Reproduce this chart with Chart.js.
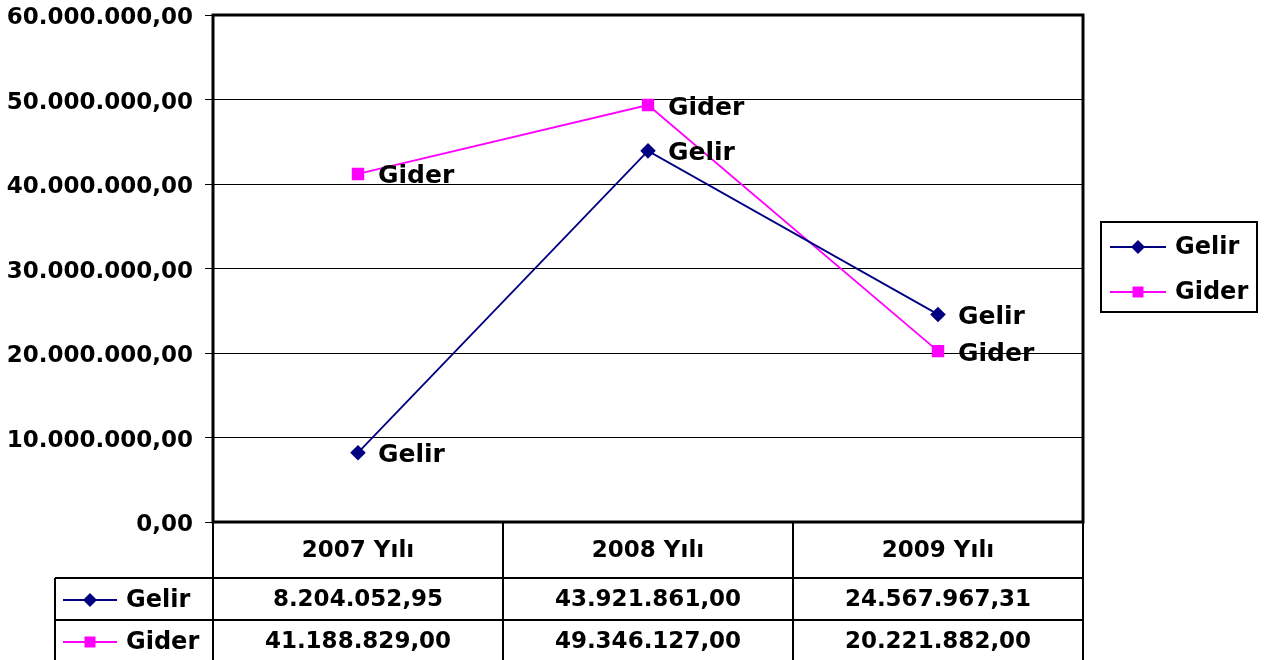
<!DOCTYPE html>
<html lang="tr">
<head>
<meta charset="UTF-8">
<title>Gelir - Gider</title>
<script src="https://cdn.jsdelivr.net/npm/chart.js"></script>
<style>
  body { margin: 0; background: #fff; }
  #wrap { width: 1273px; height: 660px; }
</style>
</head>
<body>
<div id="wrap"><canvas id="grafik" width="1273" height="660"></canvas></div>
<script>
// veriler
const yillar = ['2007 Yılı', '2008 Yılı', '2009 Yılı'];
const gelir = [8204052.95, 43921861.00, 24567967.31];
const gider = [41188829.00, 49346127.00, 20221882.00];
const seriAdlari = ['Gelir', 'Gider'];
const yMax = 60000000;
const yAdim = 10000000;

const FONT = '"DejaVu Sans", "Liberation Sans", Arial, sans-serif';
const LACI = '#000080';
const PEMBE = '#FF00FF';

// Türkçe sayı biçimi: 41.188.829,00
function trSayi(v) {
    const parca = Math.abs(v).toFixed(2).split('.');
    return parca[0].replace(/\B(?=(\d{3})+(?!\d))/g, '.') + ',' + parca[1];
}

function isaret(ctx, tip, x, y, renk) {
    ctx.save();
    ctx.fillStyle = renk;
    ctx.beginPath();
    if (tip === 'kare') {
        ctx.rect(x - 5.5, y - 5.5, 11, 11);
    } else {
        ctx.moveTo(x - 7, y);
        ctx.lineTo(x, y - 7);
        ctx.lineTo(x + 7, y);
        ctx.lineTo(x, y + 7);
        ctx.closePath();
    }
    ctx.fill();
    ctx.restore();
}

function anahtar(ctx, x1, x2, y, renk, tip) {
    ctx.save();
    ctx.strokeStyle = renk;
    ctx.lineWidth = 2;
    ctx.beginPath();
    ctx.moveTo(x1, y);
    ctx.lineTo(x2, y);
    ctx.stroke();
    ctx.restore();
    isaret(ctx, tip, (x1 + x2) / 2, y, renk);
}

// veri etiketleri, çerçeve, veri tablosu ve gösterge
const ekler = {
    id: 'ekler',
    afterDatasetsDraw(chart) {
        const ctx = chart.ctx;
        const a = chart.chartArea;
        const xs = chart.scales.x;

        // nokta etiketleri
        ctx.save();
        ctx.font = 'bold 25px ' + FONT;
        ctx.fillStyle = '#000';
        ctx.textAlign = 'left';
        ctx.textBaseline = 'middle';
        chart.data.datasets.forEach((ds, i) => {
            chart.getDatasetMeta(i).data.forEach(p => {
                ctx.fillText(ds.label, p.x + 20, p.y + 3);
            });
        });
        ctx.restore();

        // çizim alanı çerçevesi
        ctx.save();
        ctx.strokeStyle = '#000';
        ctx.lineWidth = 3;
        ctx.strokeRect(a.left, a.top, a.right - a.left, a.bottom - a.top);
        ctx.restore();

        // veri tablosu
        const ust = a.bottom, s1 = 578, s2 = 620, alt = 662;
        const solKenar = 55;
        const adim = xs.getPixelForValue(1) - xs.getPixelForValue(0);
        ctx.save();
        ctx.strokeStyle = '#000';
        ctx.lineWidth = 2;
        ctx.beginPath();
        for (let i = 0; i <= yillar.length; i++) {
            const x = a.left + i * adim;
            ctx.moveTo(x, ust);
            ctx.lineTo(x, alt);
        }
        ctx.moveTo(solKenar, s1); ctx.lineTo(a.right, s1);
        ctx.moveTo(solKenar, s2); ctx.lineTo(a.right, s2);
        ctx.moveTo(solKenar, s1); ctx.lineTo(solKenar, alt);
        ctx.stroke();

        ctx.fillStyle = '#000';
        ctx.textAlign = 'center';
        ctx.textBaseline = 'middle';
        ctx.font = 'bold 23px ' + FONT;
        const seriler = [gelir, gider];
        const satirY = [(s1 + s2) / 2 + 1, (s2 + alt) / 2 + 1];
        yillar.forEach((y, i) => {
            const cx = xs.getPixelForValue(i);
            ctx.fillText(y, cx, (ust + s1) / 2 + 1);
            seriler.forEach((sr, j) => {
                ctx.fillText(trSayi(sr[i]), cx, satirY[j]);
            });
        });

        // tablo içi anahtarlar
        ctx.font = 'bold 24px ' + FONT;
        ctx.textAlign = 'left';
        anahtar(ctx, 63, 117, satirY[0], LACI, 'elmas');
        ctx.fillText(seriAdlari[0], 126, satirY[0] + 1);
        anahtar(ctx, 63, 117, satirY[1], PEMBE, 'kare');
        ctx.fillText(seriAdlari[1], 126, satirY[1] + 1);

        // gösterge kutusu
        ctx.lineWidth = 2;
        ctx.strokeRect(1101, 222, 156, 90);
        anahtar(ctx, 1110, 1166, 247, LACI, 'elmas');
        ctx.fillText(seriAdlari[0], 1175, 248);
        anahtar(ctx, 1110, 1166, 292, PEMBE, 'kare');
        ctx.fillText(seriAdlari[1], 1175, 293);
        ctx.restore();
    }
};

const ctx = document.getElementById('grafik').getContext('2d');
new Chart(ctx, {
    type: 'line',
    data: {
        labels: yillar,
        datasets: [
            {
                label: seriAdlari[0],
                data: gelir,
                borderColor: LACI,
                backgroundColor: LACI,
                borderWidth: 1.8,
                pointStyle: 'rectRot',
                pointRadius: 6.5,
                tension: 0
            },
            {
                label: seriAdlari[1],
                data: gider,
                borderColor: PEMBE,
                backgroundColor: PEMBE,
                borderWidth: 1.8,
                pointStyle: 'rect',
                pointRadius: 7.5,
                tension: 0
            }
        ]
    },
    options: {
        responsive: false,
        animation: false,
        layout: { padding: { left: 0, top: 15, right: 190, bottom: 138 } },
        plugins: {
            legend: { display: false },
            tooltip: { enabled: false }
        },
        scales: {
            x: { display: false, offset: true },
            y: {
                min: 0,
                max: yMax,
                afterFit(s) {
                    s.width = 213;
                    s.paddingTop = 0;
                    s.paddingBottom = 0;
                },
                border: { display: false },
                grid: { color: '#000', lineWidth: 1, tickLength: 8, tickColor: '#000' },
                ticks: {
                    stepSize: yAdim,
                    padding: 12,
                    color: '#000',
                    // boş ilk satır etiketi birkaç piksel aşağı kaydırır
                    font: { family: FONT, size: 23, weight: 'bold', lineHeight: 0.3 },
                    callback: v => ['', trSayi(v)]
                }
            }
        }
    },
    plugins: [ekler]
});
</script>
</body>
</html>
